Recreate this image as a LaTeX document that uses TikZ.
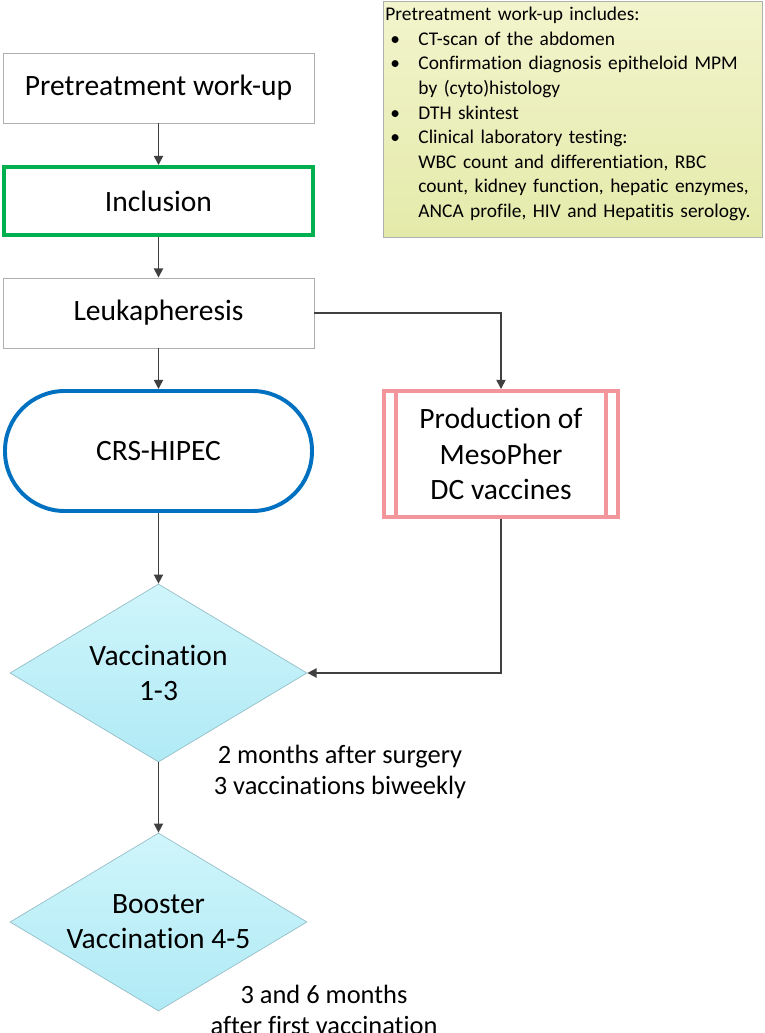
\documentclass[tikz,border=0pt]{standalone}
\usepackage{fontspec}
\setmainfont{Carlito}[Ligatures=NoCommon]
\usetikzlibrary{shapes.geometric,arrows.meta}
\definecolor{incgreen}{RGB}{0,176,80}
\definecolor{crsblue}{RGB}{0,112,192}
\definecolor{prodpink}{RGB}{242,150,155}
\definecolor{arrgray}{RGB}{64,64,64}
\definecolor{boxgray}{RGB}{175,175,175}
\definecolor{vactop}{RGB}{207,245,251}
\definecolor{vacbot}{RGB}{176,234,245}
\definecolor{vacline}{RGB}{150,190,200}
\definecolor{notetop}{RGB}{242,244,204}
\definecolor{notebot}{RGB}{228,234,170}
\newcommand{\notebullet}{\hspace*{0.125cm}\makebox[0.7cm][l]{\textbullet}}
\newcommand{\noteindent}{\hspace*{0.825cm}}

\begin{document}
\begin{tikzpicture}[
    box/.style={draw=boxgray, line width=0.6pt, minimum width=7.775cm, minimum height=1.75cm, font=\fontsize{21}{25}\selectfont},
    vac/.style={diamond, aspect=1.67, draw=vacline, line width=0.5pt, top color=vactop, bottom color=vacbot, minimum width=7.425cm, minimum height=4.45cm, inner sep=0pt, align=center, font=\fontsize{21}{25}\selectfont},
    arr/.style={draw=arrgray, line width=1.1pt, -{Triangle[length=6.5pt,width=6.5pt]}},
    remark/.style={align=center, font=\fontsize{18.8}{22}\selectfont}
]
\useasboundingbox (0,0) rectangle (19.1,25.825);
% note on the work-up
\node[draw=boxgray, line width=0.6pt, top color=notetop, bottom color=notebot, anchor=north west, text width=9.375cm, minimum height=5.9cm, inner xsep=0.05cm, align=left, font=\fontsize{13.8}{17.5}\selectfont] (note) at (9.575,25.8) {Pretreatment work-up includes:\\
\notebullet CT-scan of the abdomen\\
\notebullet Confirmation diagnosis epitheloid MPM\\
\noteindent by (cyto)histology\\
\notebullet DTH skintest\\
\notebullet Clinical laboratory testing:\\
\noteindent WBC count and differentiation, RBC\\
\noteindent count, kidney function, hepatic enzymes,\\
\noteindent ANCA profile, HIV and Hepatitis serology.\\[-7.5pt]\mbox{}};
% flow
\node[box] (pre) at (3.9625,23.625) {Pretreatment work-up};
\node[box, draw=incgreen, line width=2.8pt, minimum width=7.725cm, minimum height=1.7cm] (incl) at (3.9625,20.8) {Inclusion};
\node[box] (leuk) at (3.9625,18.0) {Leukapheresis};
\node[box, draw=crsblue, line width=2.8pt, rounded corners=1.49cm, minimum width=7.675cm, minimum height=3.0cm] (crs) at (3.9625,14.55) {CRS-HIPEC};
\node[box, draw=prodpink, line width=2.8pt, minimum width=5.85cm, minimum height=3.15cm, align=center] (prod) at (12.525,14.475) {Production of\\MesoPher\\DC vaccines};
\draw[prodpink, line width=2.8pt] ([xshift=0.34cm]prod.north west) -- ([xshift=0.34cm]prod.south west);
\draw[prodpink, line width=2.8pt] ([xshift=-0.34cm]prod.north east) -- ([xshift=-0.34cm]prod.south east);
\node[vac] (vac1) at (3.9625,9.0) {Vaccination\\1-3};
\node[vac] (vac2) at (3.9625,2.775) {Booster\\Vaccination 4-5};
\node[remark] (rem1) at (8.5,6.525) {2 months after surgery\\3 vaccinations biweekly};
\node[remark] (rem2) at (8.1,0.5875) {3 and 6 months\\after first vaccination};
% arrows
\draw[arr] (pre) -- (incl);
\draw[arr] (incl) -- (leuk);
\draw[arr] (leuk) -- (crs);
\draw[arr] (leuk) -| (prod);
\draw[arr] (crs) -- (vac1);
\draw[arr] (prod) |- (vac1);
\draw[arr] (vac1) -- (vac2);
\end{tikzpicture}
\end{document}
